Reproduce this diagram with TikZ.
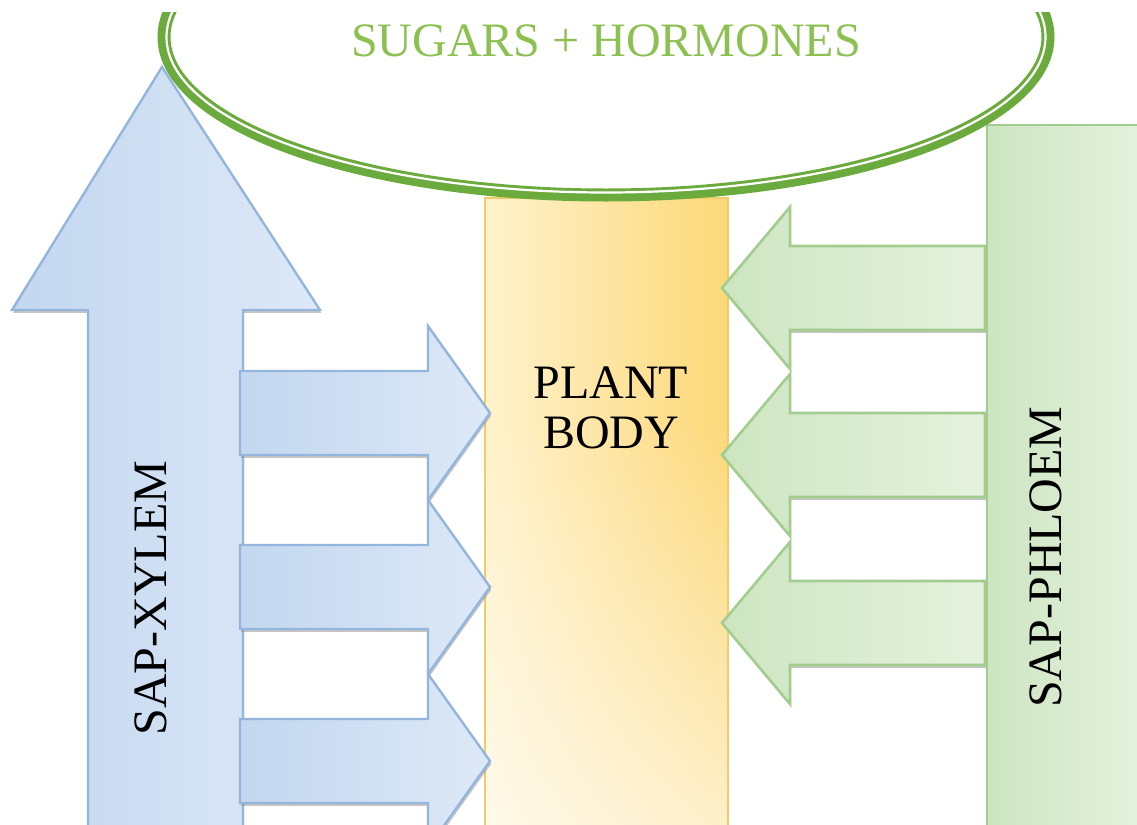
\documentclass[tikz,border=0pt]{standalone}
\usepackage{fontspec}
\setmainfont{Liberation Serif}
\usetikzlibrary{shadows,fadings}
\definecolor{xyedge}{HTML}{94B6DD}
\definecolor{xyA}{HTML}{C3D7F0}
\definecolor{xyB}{HTML}{DDE9F7}
\definecolor{phedge}{HTML}{A3CD8F}
\definecolor{phA}{HTML}{CDE5C1}
\definecolor{phB}{HTML}{E6F2DF}
\definecolor{ringgreen}{HTML}{6BAA3C}
\definecolor{sugartext}{HTML}{8CC152}
\definecolor{bodyA}{HTML}{FFF2CC}
\definecolor{bodyB}{HTML}{FCD878}
\definecolor{bodyedge}{HTML}{F3CC6A}
\tikzset{
  softshadow/.style={drop shadow={shadow xshift=0.6pt, shadow yshift=-1.4pt, fill=black!45, opacity=0.5}},
  xyshape/.style={draw=xyedge, line width=1.2pt, left color=xyA, right color=xyB, line join=miter, softshadow},
  phshape/.style={draw=phedge, line width=1.3pt, left color=phA, right color=phB, line join=miter, softshadow},
  lbl/.style={font=\fontsize{24}{25}\selectfont, text=black, inner sep=0pt, align=center},
  rightarrow/.pic={\path[xyshape] (0,0) -- (-62,-87) -- (-62,-42) -- (-250,-42) -- (-250,42) -- (-62,42) -- (-62,87) -- cycle;},
  leftarrow/.pic={\path[phshape] (0,0) -- (68,-81) -- (68,-42) -- (263,-42) -- (263,42) -- (68,42) -- (68,81) -- cycle;},
}
\begin{document}
\begin{tikzpicture}[x=0.5pt,y=-0.5pt]
\useasboundingbox (0,0) rectangle (1137,825);
\fill[white] (0,0) rectangle (1137,825);
% plant body
\shade[left color=bodyA, right color=bodyB, draw=bodyedge, line width=0.8pt] (485,198) rectangle (728,840);
\fill[white, path fading=north, fill opacity=0.6] (486,420) rectangle (727,826);
% xylem main arrow
\path[xyshape] (162,67) -- (320,310) -- (243,310) -- (243,840) -- (88,840) -- (88,310) -- (12,310) -- cycle;
% right arrows
\pic at (490,413) {rightarrow};
\pic at (490,587) {rightarrow};
\pic at (490,761) {rightarrow};
% left arrows
\pic at (722,288) {leftarrow};
\pic at (722,455) {leftarrow};
\pic at (722,623) {leftarrow};
% phloem box
\path[draw=phedge, line width=1.3pt, left color=phA, right color=phB] (987,125) rectangle (1150,840);
% ring
\begin{scope}
  \clip (0,12) rectangle (1137,825);
  \draw[ringgreen, line width=6.5pt] (606,37) ellipse [x radius=442, y radius=158];
  \draw[white, line width=1.1pt] (606,37) ellipse [x radius=439.5, y radius=155.5];
\end{scope}
% labels
\node[lbl, text=sugartext] (sugars) at (606,41) {SUGARS + HORMONES};
\node[lbl] (body) at (611,408) {PLANT\\BODY};
\node[lbl, rotate=90] (xylem) at (151,598) {SAP-XYLEM};
\node[lbl, rotate=90] (phloem) at (1046,557) {SAP-PHLOEM};
\end{tikzpicture}
\end{document}
